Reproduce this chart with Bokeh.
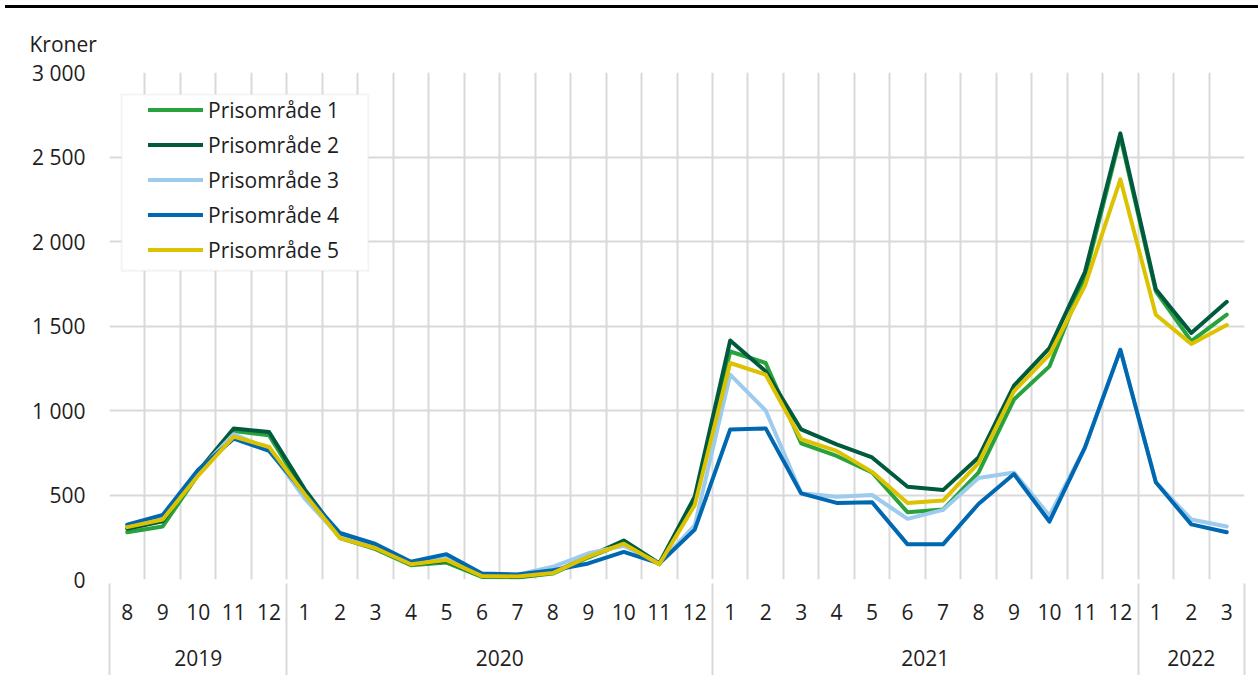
from bokeh.plotting import figure
from bokeh.models import (Range1d, FixedTicker, LinearAxis, Legend, LegendItem,
                          BoxAnnotation, Grid, Div)
from bokeh.layouts import column
from bokeh.embed import file_html
from bokeh.resources import INLINE

# ---- data ----
years = ["2019", "2020", "2021", "2022"]
months_per_year = [[8, 9, 10, 11, 12],
                   list(range(1, 13)),
                   list(range(1, 13)),
                   [1, 2, 3]]

p1 = [280, 314, 620, 878, 853, 515, 245, 180, 85, 100, 15, 12, 35, 130, 215, 90, 465,
      1349, 1281, 806, 731, 633, 398, 414, 633, 1065, 1261, 1790, 2620, 1705, 1410, 1567]
p2 = [300, 345, 640, 894, 873, 535, 255, 185, 90, 110, 20, 15, 40, 135, 231, 95, 490,
      1414, 1232, 888, 800, 722, 549, 529, 722, 1147, 1369, 1819, 2640, 1718, 1459, 1643]
p3 = [320, 360, 640, 860, 770, 480, 250, 190, 95, 140, 30, 28, 75, 155, 200, 95, 320,
      1212, 1000, 510, 490, 500, 359, 412, 600, 633, 378, 780, 1359, 575, 355, 314]
p4 = [325, 382, 650, 833, 761, 510, 275, 210, 105, 150, 35, 30, 55, 95, 163, 95, 295,
      888, 894, 510, 453, 457, 208, 208, 447, 624, 343, 780, 1359, 575, 326, 280]
p5 = [310, 355, 615, 845, 784, 505, 245, 185, 90, 115, 20, 18, 38, 135, 212, 90, 440,
      1281, 1212, 830, 761, 637, 453, 467, 688, 1114, 1330, 1738, 2368, 1567, 1394, 1506]

names = ["Prisområde 1", "Prisområde 2", "Prisområde 3", "Prisområde 4", "Prisområde 5"]
colors = ["#27A23C", "#005B3E", "#9CCBEE", "#0067B1", "#DCC200"]
series = [p1, p2, p3, p4, p5]

y_ticks = [0, 500, 1000, 1500, 2000, 2500, 3000]
y_labels = ["0", "500", "1 000", "1 500", "2 000", "2 500", "3 000"]

# ---- derived positions ----
month_labels = [str(m) for ms in months_per_year for m in ms]
n = len(month_labels)
xs = [i + 0.5 for i in range(n)]
bounds = [0]
for ms in months_per_year:
    bounds.append(bounds[-1] + len(ms))
year_centers = [(bounds[i] + bounds[i + 1]) / 2 for i in range(len(years))]

FONT = "Open Sans"
FS = "21px"
TXT = "#1e1e1e"
GRID = "#d9d9d9"

fig = figure(width=1258, height=667, output_backend="svg", toolbar_location=None,
             x_range=Range1d(0, n), y_range=Range1d(0, 3000),
             min_border_left=109, min_border_right=14, min_border_top=64,
             min_border_bottom=94, outline_line_color=None, x_axis_type=None,
             y_axis_type=None)

fig.title.text = "Kroner"
fig.title.align = "left"
fig.title.offset = -80
fig.title.standoff = 30
fig.title.text_font = FONT
fig.title.text_font_size = FS
fig.title.text_font_style = "normal"
fig.title.text_color = TXT

# grids
vgrid = Grid(dimension=0, ticker=FixedTicker(ticks=list(range(n + 1))),
             grid_line_color=GRID, grid_line_width=2)
hgrid = Grid(dimension=1, ticker=FixedTicker(ticks=y_ticks),
             grid_line_color=GRID, grid_line_width=2)
fig.add_layout(vgrid, "center")
fig.add_layout(hgrid, "center")

# y axis
yax = LinearAxis(ticker=FixedTicker(ticks=y_ticks),
                 major_label_overrides={t: l for t, l in zip(y_ticks, y_labels)},
                 axis_line_color=None, major_tick_line_color=None, minor_tick_line_color=None,
                 major_tick_out=0, major_tick_in=0, major_label_standoff=24,
                 major_label_text_font=FONT, major_label_text_font_size=FS,
                 major_label_text_color=TXT)
fig.add_layout(yax, "left")

# month axis
xax = LinearAxis(ticker=FixedTicker(ticks=xs),
                 major_label_overrides={x: l for x, l in zip(xs, month_labels)},
                 axis_line_color=None, major_tick_line_color=None,
                 minor_tick_line_color=None,
                 major_tick_out=0, major_tick_in=0, minor_tick_out=0, minor_tick_in=0,
                 major_label_standoff=24,
                 major_label_text_font=FONT, major_label_text_font_size=FS,
                 major_label_text_color=TXT)
fig.add_layout(xax, "below")

# year axis
yrax = LinearAxis(ticker=FixedTicker(ticks=year_centers),
                  major_label_overrides={c: y for c, y in zip(year_centers, years)},
                  axis_line_color=None, major_tick_line_color=None,
                  minor_tick_line_color=None, major_tick_out=0, major_tick_in=0,
                  minor_tick_out=0, minor_tick_in=0,
                  major_label_standoff=27,
                  major_label_text_font=FONT, major_label_text_font_size=FS,
                  major_label_text_color=TXT)
fig.add_layout(yrax, "below")

# separator axis: minor ticks at year boundaries, drawn upward to the frame
sepax = LinearAxis(ticker=FixedTicker(ticks=[], minor_ticks=bounds),
                   axis_line_color=None, major_tick_line_color=None,
                   major_tick_out=0, major_tick_in=0,
                   minor_tick_line_color=GRID, minor_tick_line_width=2,
                   minor_tick_in=85, minor_tick_out=7, major_label_standoff=0,
                   major_label_text_font_size="0px")
fig.add_layout(sepax, "below")

# lines
items = []
for name, col, vals in zip(names, colors, series):
    r = fig.line(xs, vals, line_color=col, line_width=4, line_join="round",
                 line_cap="round")
    items.append(LegendItem(label=name, renderers=[r]))

# legend frame box
fig.add_layout(BoxAnnotation(left=0.34, right=7.30, top=2870, bottom=1827,
                             fill_color="white", fill_alpha=1,
                             line_color=GRID, line_width=2, level="overlay"))
legend = Legend(items=items, location=(39, 312), padding=0, spacing=0,
                label_height=35, glyph_height=35, glyph_width=55, label_standoff=5,
                border_line_color=None, background_fill_alpha=0,
                label_text_font=FONT, label_text_font_size=FS,
                label_text_color=TXT, margin=0)
fig.add_layout(legend, "center")

rule = Div(text="", width=1253, height=3, margin=(5, 0, 0, 5),
           styles={"background-color": "black"})

p = column(rule, fig, spacing=0)

open("out.html", "w").write(file_html(p, INLINE))
